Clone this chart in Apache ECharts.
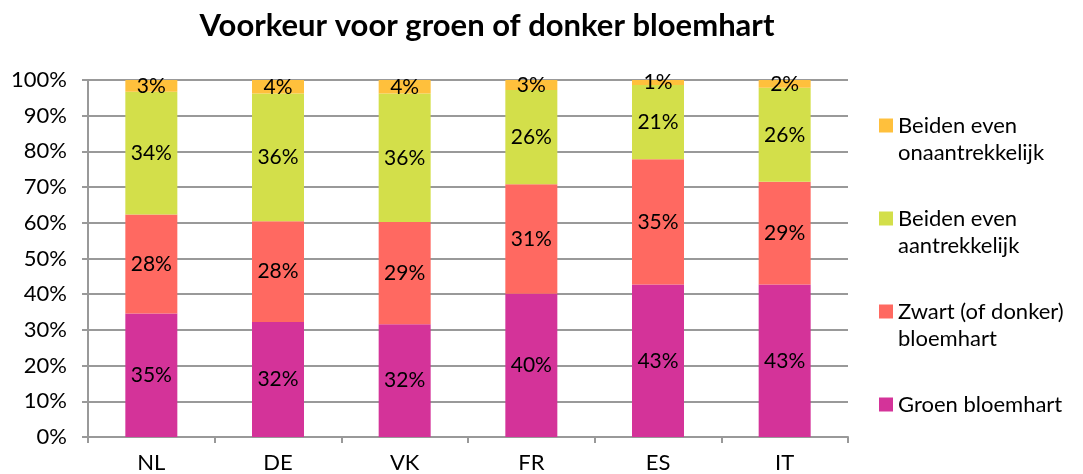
<!DOCTYPE html>
<html style="height: 100%">
<head>
<meta charset="utf-8">
<script src="https://cdn.jsdelivr.net/npm/echarts@6/dist/echarts.min.js"></script>
</head>
<body style="height: 100%; margin: 0; background: #fff">
<div id="container" style="width: 1083px; height: 474px"></div>
<script type="text/javascript">
var landen = ['NL', 'DE', 'VK', 'FR', 'ES', 'IT'];
// aandelen in procent
var groen = [34.6, 32.2, 31.6, 40.1, 42.7, 42.7];
var zwart = [27.7, 28.2, 28.6, 30.7, 35.1, 28.8];
var aantrekkelijk = [34.4, 35.8, 36.0, 26.4, 20.8, 26.3];
var onaantrekkelijk = [3.3, 3.8, 3.8, 2.8, 1.4, 2.2];
var yTicks = [0, 10, 20, 30, 40, 50, 60, 70, 80, 90, 100];

var font = 'Lato';
// lege eerste regel zodat het icoon bij de eerste tekstregel staat
var legendText = {
    'Beiden even onaantrekkelijk': '\nBeiden even\nonaantrekkelijk',
    'Beiden even aantrekkelijk': '\nBeiden even\naantrekkelijk',
    'Zwart (of donker) bloemhart': '\nZwart (of donker)\nbloemhart',
    'Groen bloemhart': '\nGroen bloemhart\n'
};

function serie(name, data, color) {
    return {
        name: name,
        type: 'bar',
        stack: 'totaal',
        barWidth: 52,
        data: data,
        itemStyle: { color: color },
        label: {
            show: true,
            position: 'inside',
            color: '#000',
            fontFamily: font,
            fontSize: 21,
            formatter: function (p) { return Math.round(p.value) + '%'; }
        }
    };
}

var dom = document.getElementById('container');
var myChart = echarts.init(dom);
var option = {
    animation: false,
    title: {
        text: 'Voorkeur voor groen of donker bloemhart',
        left: 482,
        textAlign: 'center',
        top: 5,
        textStyle: { fontFamily: font, fontWeight: 'bold', fontSize: 31, color: '#000' }
    },
    grid: { left: 88, right: 235, top: 80, bottom: 37 },
    legend: {
        orient: 'vertical',
        left: 879,
        top: 85,
        padding: 0,
        itemWidth: 14,
        itemHeight: 14,
        itemGap: 12,
        icon: 'rect',
        data: ['Beiden even onaantrekkelijk', 'Beiden even aantrekkelijk', 'Zwart (of donker) bloemhart', 'Groen bloemhart'],
        formatter: function (n) { return legendText[n]; },
        textStyle: { fontFamily: font, fontSize: 22, color: '#000', lineHeight: 27 }
    },
    xAxis: {
        type: 'category',
        data: landen,
        axisLine: { lineStyle: { color: '#999', width: 2 } },
        axisTick: { show: true, length: 6, lineStyle: { color: '#999', width: 2 } },
        axisLabel: { color: '#000', fontFamily: font, fontSize: 22, margin: 15 }
    },
    yAxis: {
        type: 'value',
        min: yTicks[0],
        max: yTicks[yTicks.length - 1],
        interval: yTicks[1] - yTicks[0],
        axisLine: { show: true, lineStyle: { color: '#999', width: 2 } },
        axisTick: { show: true, length: 6, lineStyle: { color: '#999', width: 2 } },
        splitLine: { lineStyle: { color: '#999', width: 2 } },
        axisLabel: { color: '#000', fontFamily: font, fontSize: 22, margin: 21, formatter: '{value}%' }
    },
    series: [
        serie('Groen bloemhart', groen, '#D43399'),
        serie('Zwart (of donker) bloemhart', zwart, '#FF6961'),
        serie('Beiden even aantrekkelijk', aantrekkelijk, '#D3DF4A'),
        serie('Beiden even onaantrekkelijk', onaantrekkelijk, '#FFC03C')
    ]
};
myChart.setOption(option);
</script>
</body>
</html>
